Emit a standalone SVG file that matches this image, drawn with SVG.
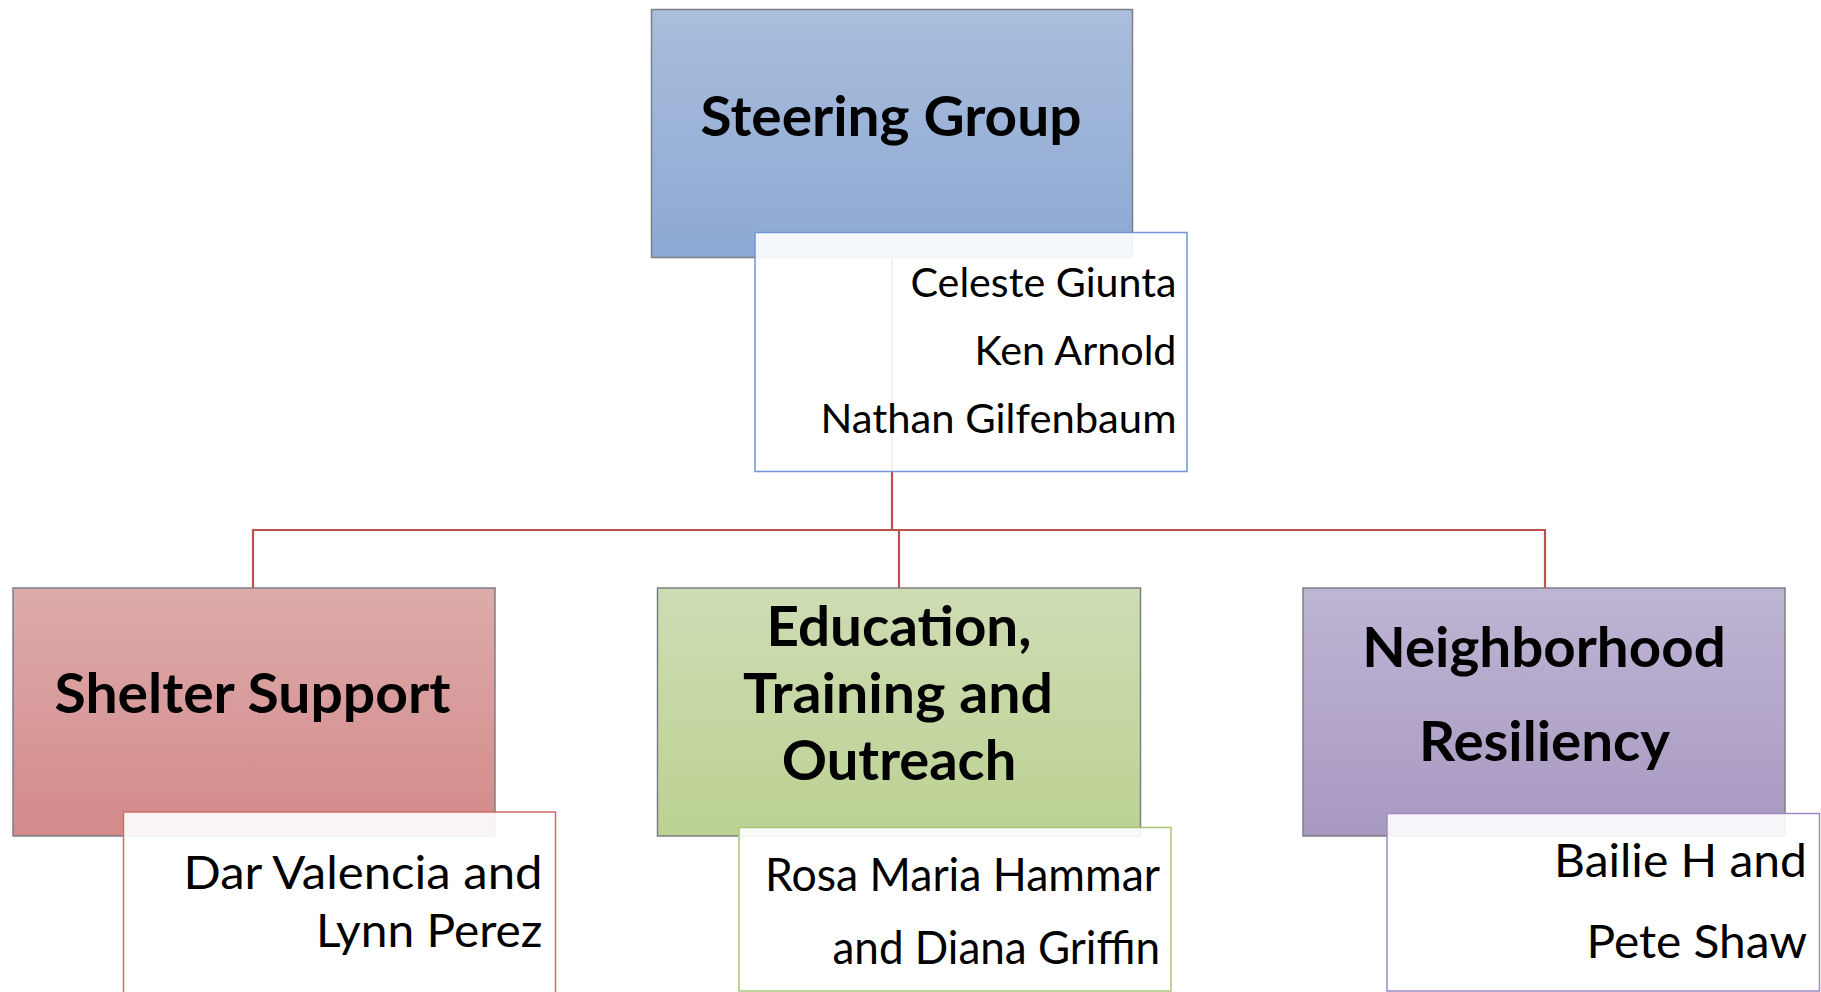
<svg xmlns="http://www.w3.org/2000/svg" width="1821" height="992" viewBox="0 0 1821 992">
<defs>
<linearGradient id="gBlue" x1="0" y1="0" x2="0" y2="1"><stop offset="0" stop-color="#aabedd"/><stop offset="1" stop-color="#8da8d3"/></linearGradient>
<linearGradient id="gRed" x1="0" y1="0" x2="0" y2="1"><stop offset="0" stop-color="#ddabab"/><stop offset="1" stop-color="#d48a8a"/></linearGradient>
<linearGradient id="gGreen" x1="0" y1="0" x2="0" y2="1"><stop offset="0" stop-color="#cedcb3"/><stop offset="1" stop-color="#bcd293"/></linearGradient>
<linearGradient id="gPurple" x1="0" y1="0" x2="0" y2="1"><stop offset="0" stop-color="#beb5d3"/><stop offset="1" stop-color="#a899c1"/></linearGradient>
</defs>
<style>
.box{stroke:#7d7f85;stroke-width:1.5}
.tb{fill:#ffffff;fill-opacity:0.9;stroke-width:1.5}
.title{font-family:Lato,'Open Sans','Liberation Sans',sans-serif;font-weight:bold;font-size:55px;fill:#000;text-anchor:middle}
.name{font-family:Lato,'Open Sans','Liberation Sans',sans-serif;font-size:46px;fill:#000;text-anchor:end}
.sname{font-family:Lato,'Open Sans','Liberation Sans',sans-serif;font-size:40px;fill:#000;text-anchor:end}
.conn{stroke:#c0504d;stroke-width:2.2;fill:none}
</style>
<rect width="1821" height="992" fill="#ffffff"/>
<g id="connectors">
<line class="conn" x1="892" y1="250" x2="892" y2="530"/>
<line class="conn" x1="253" y1="530" x2="1545" y2="530"/>
<line class="conn" x1="253" y1="529" x2="253" y2="588"/>
<line class="conn" x1="899" y1="529" x2="899" y2="588"/>
<line class="conn" x1="1545" y1="529" x2="1545" y2="588"/>
</g>
<g id="steering">
<rect class="box" x="651.5" y="9.5" width="481" height="248" fill="url(#gBlue)"/>
<text class="title" x="891" y="136" textLength="381" lengthAdjust="spacingAndGlyphs">Steering Group</text>
</g>
<g id="steering-members">
<rect class="tb" x="755" y="232.5" width="432" height="239" stroke="#6f97d3"/>
<text class="sname" x="1176.5" y="297" textLength="266" lengthAdjust="spacingAndGlyphs">Celeste Giunta</text>
<text class="sname" x="1176.5" y="365" textLength="202" lengthAdjust="spacingAndGlyphs">Ken Arnold</text>
<text class="sname" x="1176.5" y="433" textLength="356" lengthAdjust="spacingAndGlyphs">Nathan Gilfenbaum</text>
</g>
<g id="shelter">
<rect class="box" x="13" y="588" width="482" height="248" fill="url(#gRed)"/>
<text class="title" x="252.5" y="713" textLength="396" lengthAdjust="spacingAndGlyphs">Shelter Support</text>
</g>
<g id="shelter-members">
<rect class="tb" x="123.5" y="812" width="432" height="240" stroke="#d16a6a"/>
<text class="name" x="542.5" y="889" textLength="359" lengthAdjust="spacingAndGlyphs">Dar Valencia and</text>
<text class="name" x="542.5" y="947" textLength="226.5" lengthAdjust="spacingAndGlyphs">Lynn Perez</text>
</g>
<g id="education">
<rect class="box" x="657.5" y="588" width="483" height="248" fill="url(#gGreen)"/>
<text class="title" x="899" y="646" textLength="265" lengthAdjust="spacingAndGlyphs">Education,</text>
<text class="title" x="898" y="713" textLength="310" lengthAdjust="spacingAndGlyphs">Training and</text>
<text class="title" x="899" y="780" textLength="234.5" lengthAdjust="spacingAndGlyphs">Outreach</text>
</g>
<g id="education-members">
<rect class="tb" x="739" y="827.5" width="432" height="163.5" stroke="#a8c579"/>
<text class="name" x="1160" y="891" textLength="395" lengthAdjust="spacingAndGlyphs">Rosa Maria Hammar</text>
<text class="name" x="1160" y="964" textLength="327.5" lengthAdjust="spacingAndGlyphs">and Diana Griffin</text>
</g>
<g id="neighborhood">
<rect class="box" x="1303" y="588" width="482" height="248" fill="url(#gPurple)"/>
<text class="title" x="1544" y="667" textLength="363.5" lengthAdjust="spacingAndGlyphs">Neighborhood</text>
<text class="title" x="1544.5" y="761" textLength="251" lengthAdjust="spacingAndGlyphs">Resiliency</text>
</g>
<g id="neighborhood-members">
<rect class="tb" x="1387" y="813.5" width="432.5" height="177.5" stroke="#9e8bc3"/>
<text class="name" x="1807" y="877" textLength="253" lengthAdjust="spacingAndGlyphs">Bailie H and</text>
<text class="name" x="1807" y="958" textLength="220.5" lengthAdjust="spacingAndGlyphs">Pete Shaw</text>
</g>
</svg>
